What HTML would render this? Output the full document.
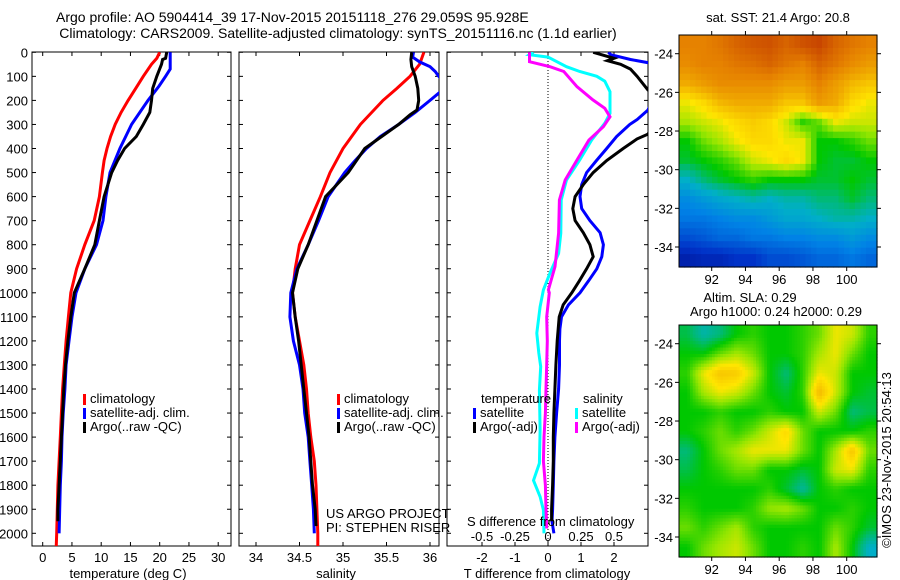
<!DOCTYPE html>
<html><head><meta charset="utf-8"><style>
body{margin:0;background:#fff;}
svg{display:block;font-family:"Liberation Sans",sans-serif;}
</style></head><body>
<svg id="fig" width="900" height="580" viewBox="0 0 900 580" xmlns="http://www.w3.org/2000/svg">
<defs>
<clipPath id="c1"><rect x="32" y="52" width="199" height="494"/></clipPath>
<clipPath id="c2"><rect x="239" y="52" width="200" height="494"/></clipPath>
<clipPath id="c3"><rect x="447" y="52" width="201" height="494"/></clipPath>
</defs>
<text x="56" y="22" font-size="14" text-anchor="start">Argo profile: AO 5904414_39 17-Nov-2015 20151118_276 29.059S 95.928E</text>
<text x="338" y="38" font-size="14" text-anchor="middle">Climatology: CARS2009. Satellite-adjusted climatology: synTS_20151116.nc (1.1d earlier)</text>
<text x="778" y="22" font-size="13" text-anchor="middle">sat. SST: 21.4 Argo: 20.8</text>
<text x="750" y="302" font-size="13" text-anchor="middle">Altim. SLA: 0.29</text>
<text x="776" y="316" font-size="13" text-anchor="middle">Argo h1000: 0.24 h2000: 0.29</text>
<text x="0" y="0" font-size="13" text-anchor="middle" transform="translate(891,460) rotate(-90)">©IMOS 23-Nov-2015 20:54:13</text>
<g id="g"></g>
</svg>
<script>
// ---- depth grids and profile data ----
const depthClimT=[0,25,50,100,150,200,250,300,350,400,450,500,600,700,800,900,1000,1100,1200,1300,1400,1500,1600,1700,1800,1900,2000,2060];
const climT=[20.0,19.5,18.6,17.2,15.9,14.6,13.4,12.4,11.6,11.0,10.5,10.2,9.7,8.8,7.2,5.8,4.8,4.4,4.0,3.7,3.4,3.2,3.0,2.8,2.6,2.5,2.4,2.3];
const depthSatT=[0,70,100,140,200,300,400,500,600,700,800,900,1000,1100,1200,1300,1400,1500,1600,1700,1800,1900,2000];
const satT=[21.8,21.8,21.0,19.9,18.0,15.2,13.2,11.5,10.8,10.3,9.2,7.2,5.7,5.0,4.5,4.0,3.8,3.5,3.3,3.2,3.0,2.9,2.8];
const depthArgoT=[0,25,30,50,100,150,200,250,300,350,400,450,500,600,700,800,900,1000,1100,1200,1300,1400,1500,1600,1700,1800,1900,1950];
const argoT=[21.2,21.0,20.5,20.3,19.5,18.8,18.6,18.3,17.2,16.0,14.0,12.8,11.8,10.5,9.7,8.9,7.2,5.4,4.8,4.3,3.9,3.6,3.4,3.2,3.0,2.8,2.6,2.6];
const depthClimS=[0,50,100,150,200,300,400,500,600,700,800,900,1000,1100,1200,1300,1400,1500,1600,1700,1800,1900,2000,2060];
const climS=[35.93,35.88,35.77,35.62,35.46,35.2,35.0,34.85,34.74,34.62,34.5,34.45,34.42,34.45,34.5,34.55,34.58,34.6,34.63,34.67,34.69,34.7,34.71,34.71];
const depthSatS=[0,20,40,60,80,100,135,170,200,250,300,350,400,450,500,600,700,800,900,1000,1100,1200,1300,1400,1500,1600,1700,1800,1900,2000];
const satS=[35.81,35.8,35.88,36.0,36.06,36.1,36.2,36.1,36.0,35.83,35.64,35.43,35.27,35.14,35.02,34.83,34.72,34.6,34.47,34.4,34.39,34.43,34.5,34.54,34.56,34.6,34.62,34.64,34.66,34.67];
const depthArgoS=[0,30,60,100,150,200,240,260,300,400,500,600,700,800,900,1000,1100,1200,1300,1400,1500,1600,1700,1800,1900,1970];
const argoS=[35.79,35.78,35.79,35.83,35.86,35.87,35.85,35.77,35.64,35.25,35.06,34.8,34.7,34.6,34.48,34.42,34.45,34.49,34.52,34.55,34.58,34.61,34.63,34.65,34.68,34.69];
const depthDT=[0,10,30,45,60,240,280,300,350,400,450,500,550,600,650,700,750,800,850,900,950,1000,1050,1100,1150,1200,1300,1400,1500,1600,1700,1800,1900,1950,2000];
const satDT=[1.83,1.9,2.5,3.1,3.6,3.03,2.7,2.48,2.08,1.78,1.47,1.17,1.02,0.97,1.02,1.27,1.58,1.68,1.63,1.48,1.23,0.97,0.62,0.41,0.36,0.35,0.35,0.32,0.26,0.21,0.18,0.16,0.14,0.12,0.18];
const depthArgoDT=[0,25,35,50,70,100,157,200,340,360,400,450,500,550,600,650,700,750,800,850,900,950,1000,1050,1100,1150,1200,1300,1400,1500,1600,1700,1800,1900,1950];
const argoDT=[1.37,2.0,1.8,2.2,2.5,2.7,3.03,3.6,3.03,2.7,2.28,1.78,1.37,1.07,0.82,0.75,0.82,1.07,1.27,1.37,1.17,0.95,0.72,0.46,0.34,0.31,0.28,0.24,0.21,0.18,0.16,0.16,0.14,0.11,0.11];
const depthDS=[0,10,20,60,80,100,120,164,254,295,365,448,531,614,752,836,918,988,1058,1168,1250,1307,1404,1571,1709,1780,1848,1903,2000];
const satDS=[-0.11,-0.14,0.0,0.14,0.24,0.37,0.43,0.47,0.47,0.43,0.33,0.24,0.14,0.10,0.097,0.08,0.015,-0.035,-0.06,-0.085,-0.07,-0.055,-0.065,-0.06,-0.065,-0.11,-0.06,-0.035,-0.03];
const depthArgoDS=[0,39,60,80,143,198,233,268,309,365,448,531,614,752,891,988,1000,1100,1200,1300,1400,1500,1600,1700,1800,1900,1980];
const argoDS=[-0.14,-0.14,0.015,0.12,0.22,0.34,0.43,0.47,0.42,0.31,0.22,0.13,0.086,0.08,0.053,0.003,0.01,-0.01,-0.005,-0.01,-0.015,-0.02,-0.03,-0.035,-0.02,-0.015,-0.01];
// ---- map grids (colour index 0..1), rows lat -23.5..-34.5, cols lon ~91..101 ----
const sstGrid=[
[0.8,0.8,0.82,0.85,0.87,0.88,0.85,0.88,0.9,0.85,0.82,0.8],
[0.78,0.8,0.8,0.82,0.83,0.85,0.82,0.8,0.85,0.82,0.78,0.75],
[0.72,0.75,0.78,0.78,0.78,0.78,0.75,0.75,0.8,0.75,0.7,0.68],
[0.62,0.65,0.7,0.72,0.72,0.72,0.68,0.68,0.75,0.72,0.65,0.62],
[0.58,0.6,0.62,0.65,0.67,0.65,0.6,0.52,0.55,0.62,0.6,0.6],
[0.5,0.55,0.58,0.62,0.65,0.65,0.62,0.62,0.5,0.5,0.52,0.55],
[0.48,0.5,0.52,0.55,0.6,0.62,0.65,0.62,0.5,0.48,0.48,0.5],
[0.4,0.45,0.48,0.5,0.52,0.5,0.5,0.5,0.48,0.48,0.5,0.48],
[0.32,0.35,0.38,0.4,0.42,0.4,0.42,0.42,0.45,0.45,0.48,0.45],
[0.28,0.28,0.3,0.32,0.32,0.35,0.38,0.38,0.4,0.42,0.42,0.4],
[0.2,0.22,0.25,0.25,0.28,0.28,0.3,0.3,0.32,0.32,0.35,0.32],
[0.1,0.12,0.12,0.15,0.15,0.2,0.2,0.22,0.25,0.25,0.28,0.25]];
const slaGrid=[
[0.47,0.42,0.45,0.5,0.52,0.5,0.5,0.52,0.55,0.62,0.6,0.52],
[0.5,0.5,0.55,0.58,0.55,0.5,0.5,0.52,0.58,0.62,0.55,0.5],
[0.52,0.62,0.68,0.67,0.6,0.5,0.45,0.52,0.62,0.6,0.5,0.5],
[0.5,0.58,0.62,0.6,0.55,0.5,0.48,0.52,0.7,0.6,0.5,0.48],
[0.5,0.5,0.52,0.5,0.5,0.52,0.5,0.5,0.6,0.55,0.45,0.47],
[0.5,0.52,0.55,0.52,0.55,0.6,0.65,0.55,0.5,0.5,0.5,0.52],
[0.45,0.5,0.55,0.58,0.62,0.62,0.62,0.55,0.5,0.58,0.68,0.55],
[0.47,0.5,0.52,0.55,0.55,0.5,0.5,0.48,0.5,0.6,0.62,0.52],
[0.5,0.5,0.5,0.5,0.5,0.52,0.48,0.43,0.5,0.52,0.5,0.5],
[0.52,0.5,0.5,0.5,0.52,0.57,0.58,0.55,0.5,0.5,0.52,0.5],
[0.55,0.52,0.55,0.58,0.52,0.5,0.5,0.5,0.5,0.55,0.52,0.48],
[0.5,0.55,0.58,0.6,0.55,0.5,0.5,0.52,0.5,0.58,0.5,0.4]];
const depthTicks=[0,100,200,300,400,500,600,700,800,900,1000,1100,1200,1300,1400,1500,1600,1700,1800,1900,2000];
const tempTicks=[0,5,10,15,20,25,30];
const salTicks=[34,34.5,35,35.5,36];
const dtTicks=[-2,-1,0,1,2];
const dsTicks=[-0.5,-0.25,0,0.25,0.5];
const dsTickLabels=["-0.5","-0.25","0","0.25","0.5"];
const lonTicks=[92,94,96,98,100];
const latTicks=[-24,-26,-28,-30,-32,-34];

const NS="http://www.w3.org/2000/svg";
const G=document.getElementById('g');
function mk(tag,attrs,parent){const e=document.createElementNS(NS,tag);for(const k in attrs)e.setAttribute(k,attrs[k]);(parent||G).appendChild(e);return e;}
const yD=d=>52.3+d*0.2405;
const xT=v=>42.7+v*5.85;
const xS=v=>256+(v-34)*87;
const xDT=v=>548+v*33;
const xDS=v=>548+v*132;
const xLon=v=>711.7+(v-92)*16.875;
const yLat1=v=>53.7+(-24-v)*19.33;
const yLat2=v=>343.7+(-24-v)*19.33;

function line(xs,ds,fx,col,clip,name){
  let p='';for(let i=0;i<xs.length;i++)p+=(i?'L':'M')+fx(xs[i]).toFixed(1)+','+yD(ds[i]).toFixed(1);
  const e=mk('path',{d:p,fill:'none',stroke:col,'stroke-width':3,'clip-path':'url(#'+clip+')'});
  
  
}
function frame(x0,x1,name){
  const r=mk('rect',{x:x0,y:52,width:x1-x0,height:494,fill:'none',stroke:'#000','stroke-width':1});
  
  
  depthTicks.forEach(d=>{mk('line',{x1:x0,x2:x0+4,y1:yD(d),y2:yD(d),stroke:'#000'});mk('line',{x1:x1,x2:x1-4,y1:yD(d),y2:yD(d),stroke:'#000'});});
}
function txt(x,y,s,name,anchor,size){const t=mk('text',{x:x,y:y,'font-size':size||13,'text-anchor':anchor||'start'});t.textContent=s;
  
  return t;}
function xticks(vals,fx,x0,x1,labels,name){
  vals.forEach((v,i)=>{const x=fx(v);mk('line',{x1:x,x2:x,y1:546,y2:542,stroke:'#000'});mk('line',{x1:x,x2:x,y1:52,y2:56,stroke:'#000'});
    txt(x,562,labels?labels[i]:String(v),name,'middle');});
}
// panel 1
frame(32,231,'temperature-panel');
depthTicks.forEach(d=>txt(28,yD(d)+5,String(d),'depth-tick-label','end'));
xticks(tempTicks,xT,32,231,null,'temperature-tick-label');
txt(128,578,'temperature (deg C)','temperature-axis-title','middle');
line(climT,depthClimT,xT,'#ff0000','c1','climatology-temperature-line');
line(satT,depthSatT,xT,'#0000ff','c1','satellite-temperature-line');
line(argoT,depthArgoT,xT,'#000000','c1','argo-temperature-line');
// panel 2
frame(239,439,'salinity-panel');
xticks(salTicks,xS,239,439,null,'salinity-tick-label');
txt(336,578,'salinity','salinity-axis-title','middle');
line(climS,depthClimS,xS,'#ff0000','c2','climatology-salinity-line');
line(satS,depthSatS,xS,'#0000ff','c2','satellite-salinity-line');
line(argoS,depthArgoS,xS,'#000000','c2','argo-salinity-line');
txt(326,518,'US ARGO PROJECT','project-label');
txt(326,532,'PI: STEPHEN RISER','pi-label');
// panel 3
frame(447,648,'difference-panel');
mk('line',{x1:548,x2:548,y1:52,y2:546,stroke:'#000','stroke-dasharray':'1,2'});
dtTicks.forEach(v=>{const x=xDT(v);mk('line',{x1:x,x2:x,y1:546,y2:542,stroke:'#000'});mk('line',{x1:x,x2:x,y1:52,y2:56,stroke:'#000'});txt(x,562,String(v),'t-diff-tick-label','middle');});
dsTicks.forEach((v,i)=>txt(xDS(v),541,dsTickLabels[i],'s-diff-tick-label','middle'));
txt(547,578,'T difference from climatology','t-diff-axis-title','middle');
line(satDS,depthDS,xDS,'#00ffff','c3','satellite-salinity-diff-line');
line(argoDS,depthArgoDS,xDS,'#ff00ff','c3','argo-salinity-diff-line');
line(satDT,depthDT,xDT,'#0000ff','c3','satellite-temperature-diff-line');
line(argoDT,depthArgoDT,xDT,'#000000','c3','argo-temperature-diff-line');
txt(467,526,'S difference from climatology','s-diff-axis-title');
// legends
function leg(x,y,col,label,name){const m=mk('rect',{x:x,y:y-9,width:3,height:11,fill:col});
  
  
  txt(x+7,y,label,name);}
leg(83,403,'#ff0000','climatology','legend-climatology');
leg(83,417,'#0000ff','satellite-adj. clim.','legend-satellite-adj');
leg(83,431,'#000000','Argo(..raw -QC)','legend-argo');
leg(337,403,'#ff0000','climatology','legend2-climatology');
leg(337,417,'#0000ff','satellite-adj. clim.','legend2-satellite-adj');
leg(337,431,'#000000','Argo(..raw -QC)','legend2-argo');
txt(481,403,'temperature','legend-temperature-header');
leg(473,417,'#0000ff','satellite','legend-t-satellite');
leg(473,431,'#000000','Argo(-adj)','legend-t-argo');
txt(583,403,'salinity','legend-salinity-header');
leg(575,417,'#00ffff','satellite','legend-s-satellite');
leg(575,431,'#ff00ff','Argo(-adj)','legend-s-argo');
// maps
const stops=[[0,[0,0,120]],[0.15,[0,50,200]],[0.3,[0,130,230]],[0.4,[0,175,200]],[0.45,[0,185,120]],[0.5,[0,200,0]],[0.57,[150,230,0]],[0.63,[255,230,0]],[0.72,[240,170,0]],[0.8,[230,130,0]],[0.9,[200,70,0]],[1,[160,20,0]]];
function cmap(v){v=Math.max(0,Math.min(1,v));for(let i=1;i<stops.length;i++){if(v<=stops[i][0]){const a=stops[i-1],b=stops[i],t=(v-a[0])/(b[0]-a[0]);return 'rgb('+a[1].map((c,k)=>Math.round(c+(b[1][k]-c)*t)).join(',')+')';}}return 'rgb(160,20,0)';}
function sample(grid,fr,fc){const R=grid.length,C=grid[0].length;fr=Math.max(0,Math.min(R-1,fr));fc=Math.max(0,Math.min(C-1,fc));
  const r0=Math.floor(fr),c0=Math.floor(fc),r1=Math.min(R-1,r0+1),c1=Math.min(C-1,c0+1),tr=fr-r0,tc=fc-c0;
  return grid[r0][c0]*(1-tr)*(1-tc)+grid[r0][c1]*(1-tr)*tc+grid[r1][c0]*tr*(1-tc)+grid[r1][c1]*tr*tc;}
function drawMap(grid,y0,yLat,name,sub){
  const x0=679,x1=877,y1=y0+232,g=mk('g',{});
  
  
  const R=grid.length,C=grid[0].length,n=sub;
  const cw=(x1-x0)/(C*n),ch=(y1-y0)/(R*n);
  for(let r=0;r<R*n;r++)for(let c=0;c<C*n;c++){
    const v=sample(grid,(r+0.5)/n-0.5,(c+0.5)/n-0.5);
    const cell=mk('rect',{x:(x0+c*cw).toFixed(2),y:(y0+r*ch).toFixed(2),width:(cw+0.6).toFixed(2),height:(ch+0.6).toFixed(2),fill:cmap(v)},g);
    
    
  }
  mk('rect',{x:x0,y:y0,width:x1-x0,height:y1-y0,fill:'none',stroke:'#000'});
  lonTicks.forEach(l=>{const x=xLon(l);mk('line',{x1:x,x2:x,y1:y1,y2:y1+4,stroke:'#000'});mk('line',{x1:x,x2:x,y1:y0,y2:y0-4,stroke:'#000'});txt(x,y1+17,String(l),'map-lon-tick-label','middle');});
  latTicks.forEach(l=>{const y=yLat(l);mk('line',{x1:x0,x2:x0-4,y1:y,y2:y,stroke:'#000'});mk('line',{x1:x1,x2:x1+4,y1:y,y2:y,stroke:'#000'});txt(x0-6,y+5,String(l),'map-lat-tick-label','end');});
}
drawMap(sstGrid,35,yLat1,'sst-map',3);
drawMap(slaGrid,325,yLat2,'sla-map',6);
</script>
</body></html>
